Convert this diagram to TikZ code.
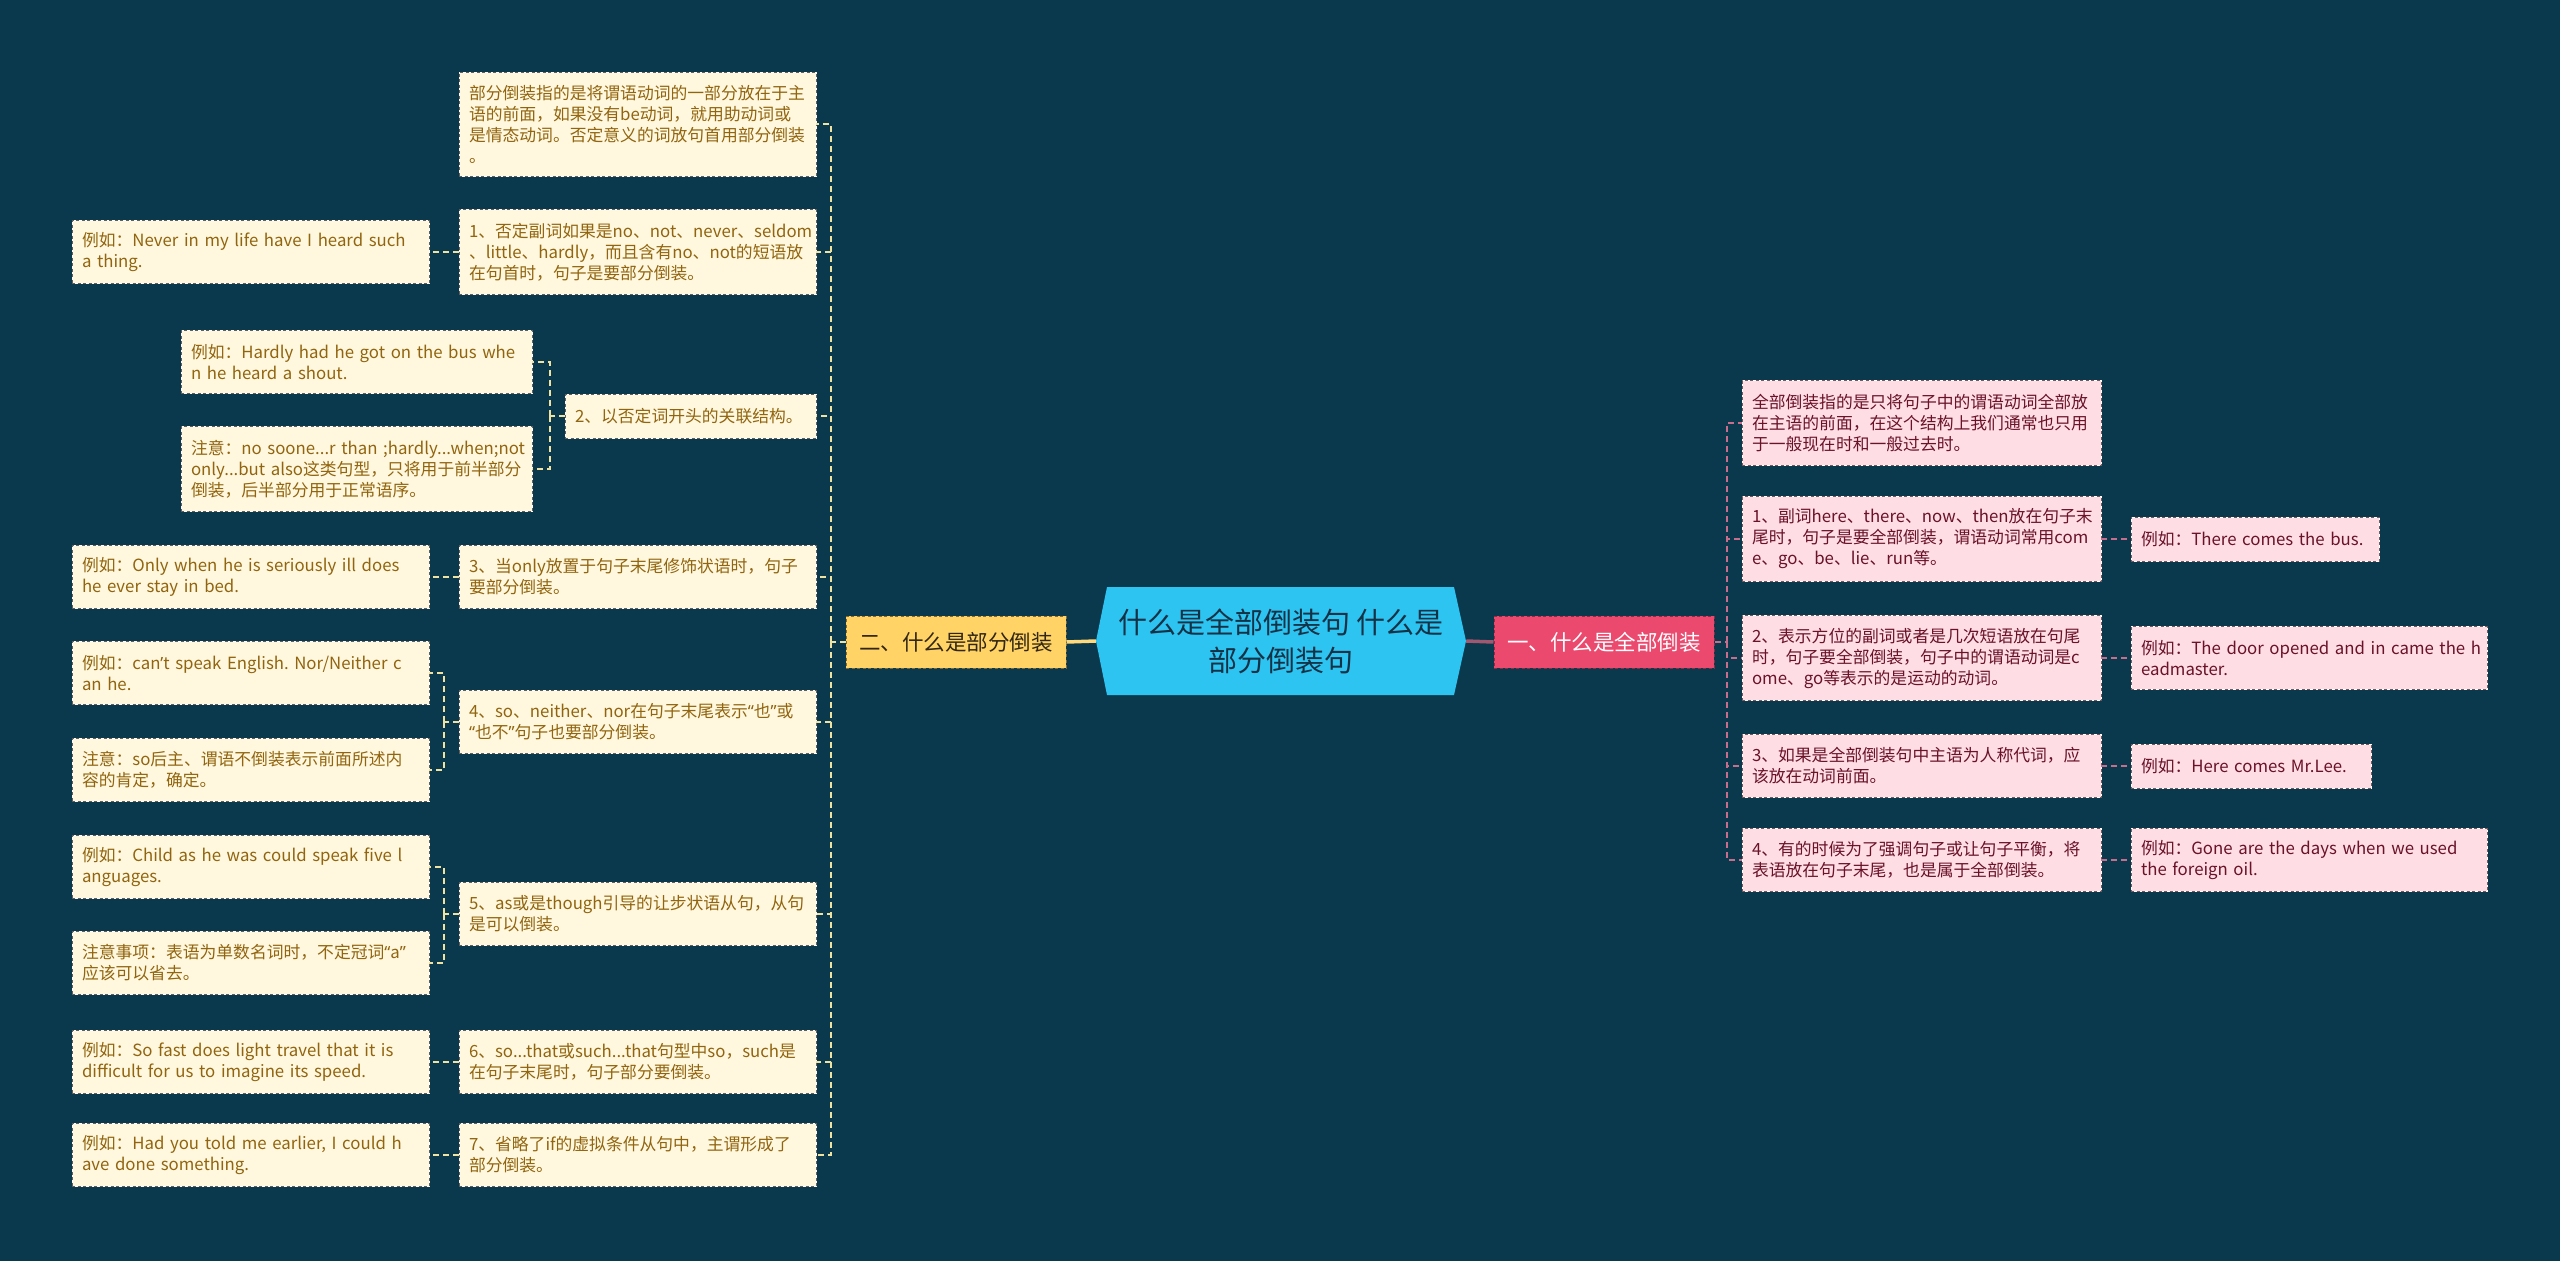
\documentclass[tikz,border=0pt]{standalone}
\usepackage{fontspec}
\setmainfont{Noto Sans CJK SC}
\newfontfamily\latq{Noto Sans}
\definecolor{bg}{RGB}{10,57,77}
\definecolor{lfill}{RGB}{255,248,222}
\definecolor{ltext}{RGB}{145,100,15}
\definecolor{lborder}{RGB}{95,95,95}
\definecolor{lline}{RGB}{240,226,160}
\definecolor{rfill}{RGB}{255,221,228}
\definecolor{rtext}{RGB}{105,18,40}
\definecolor{rborder}{RGB}{110,90,95}
\definecolor{rline}{RGB}{200,110,140}
\definecolor{cfill}{RGB}{45,196,242}
\definecolor{ctext}{RGB}{20,50,70}
\definecolor{lmfill}{RGB}{255,211,102}
\definecolor{lmtext}{RGB}{50,38,18}
\definecolor{rmfill}{RGB}{235,74,110}
\tikzset{
  box/.style={rectangle, inner xsep=10pt, inner ysep=1pt, align=left,
    font=\fontsize{16.8pt}{21pt}\selectfont, line width=0.9pt},
  lbox/.style={box, fill=lfill, draw=white!85!lfill, text=ltext,
    postaction={draw=lborder, dash pattern=on 3pt off 2.5pt, line width=0.9pt}},
  rbox/.style={box, fill=rfill, draw=white, text=rtext,
    postaction={draw=rborder, dash pattern=on 3pt off 2.5pt, line width=0.9pt}},
  wcol/.style={text width=337pt},
  h1/.style={minimum height=44pt},
  h2/.style={minimum height=63pt},
  h3/.style={minimum height=85pt},
  h4/.style={minimum height=104pt},
  lconn/.style={draw=lline, line width=1.5pt, dash pattern=on 6pt off 4pt},
  rconn/.style={draw=rline, line width=1.5pt, dash pattern=on 6pt off 4pt},
  mainbox/.style={rectangle, minimum width=220pt, minimum height=52pt,
    font=\fontsize{21.5pt}{26pt}\selectfont, line width=1pt},
}
\begin{document}
\begin{tikzpicture}[x=1pt,y=-1pt]
\fill[bg] (0,0) rectangle (2560,1261);
\useasboundingbox (0,0) rectangle (2560,1261);

% centre
\fill[cfill] (1107,587) -- (1454,587) -- (1466,641) -- (1454,695) -- (1107,695) -- (1096,641) -- cycle;
\node[rectangle, minimum width=370pt, minimum height=108pt, align=center, text=ctext,
  font=\fontsize{29pt}{38pt}\selectfont] (c) at (1281,641) {什么是全部倒装句 什么是\\部分倒装句};

\node[mainbox, fill=lmfill, text=lmtext, postaction={draw=lmtext!60!lmfill, dash pattern=on 3pt off 2.5pt}] (lm) at (956,642) {二、什么是部分倒装};
\node[mainbox, fill=rmfill, text=white, postaction={draw=rmfill!60!black, dash pattern=on 3pt off 2.5pt}] (rm) at (1604,642) {一、什么是全部倒装};

\draw[draw=lmfill!85!white, line width=3.5pt] (lm.east) -- (c.west);
\draw[draw=rline!80!black, line width=3.5pt] (c.east) -- (rm.west);

% left level 2
\node[lbox, wcol, h4] (a0) at (637.5,124) {部分倒装指的是将谓语动词的一部分放在于主\\语的前面，如果没有be动词，就用助动词或\\是情态动词。否定意义的词放句首用部分倒装\\。};
\node[lbox, wcol, h3] (b1) at (637.5,252) {1、否定副词如果是no、not、never、seldom\\、little、hardly，而且含有no、not的短语放\\在句首时，句子是要部分倒装。};
\node[lbox, text width=231pt, h1] (b2) at (690.5,416) {2、以否定词开头的关联结构。};
\node[lbox, wcol, h2] (b3) at (637.5,577) {3、当only放置于句子末尾修饰状语时，句子\\要部分倒装。};
\node[lbox, wcol, h2] (b4) at (637.5,722) {4、so、neither、nor在句子末尾表示{\latq “}也{\latq ”}或\\{\latq “}也不{\latq ”}句子也要部分倒装。};
\node[lbox, wcol, h2] (b5) at (637.5,914) {5、as或是though引导的让步状语从句，从句\\是可以倒装。};
\node[lbox, wcol, h2] (b6) at (637.5,1062) {6、so...that或such...that句型中so，such是\\在句子末尾时，句子部分要倒装。};
\node[lbox, wcol, h2] (b7) at (637.5,1155) {7、省略了if的虚拟条件从句中，主谓形成了\\部分倒装。};

% left level 3
\node[lbox, wcol, h2] (e1) at (250.5,252) {例如：Never~in~my~life~have~I~heard~such\\a~thing.};
\node[lbox, text width=331pt, h2] (e2a) at (356.5,362) {例如：Hardly~had~he~got~on~the~bus~whe\\n~he~heard~a~shout.};
\node[lbox, text width=331pt, h3] (e2b) at (356.5,469) {注意：no~soone...r~than~;hardly...when;not\\only...but~also这类句型，只将用于前半部分\\倒装，后半部分用于正常语序。};
\node[lbox, wcol, h2] (e3) at (250.5,577) {例如：Only~when~he~is~seriously~ill~does\\he~ever~stay~in~bed.};
\node[lbox, wcol, h2] (e4a) at (250.5,673) {例如：can{\latq ’}t~speak~English.~Nor/Neither~c\\an~he.};
\node[lbox, wcol, h2] (e4b) at (250.5,770) {注意：so后主、谓语不倒装表示前面所述内\\容的肯定，确定。};
\node[lbox, wcol, h2] (e5a) at (250.5,867) {例如：Child~as~he~was~could~speak~five~l\\anguages.};
\node[lbox, wcol, h2] (e5b) at (250.5,963) {注意事项：表语为单数名词时，不定冠词{\latq “}a{\latq ”}\\应该可以省去。};
\node[lbox, wcol, h2] (e6) at (250.5,1062) {例如：So~fast~does~light~travel~that~it~is\\difficult~for~us~to~imagine~its~speed.};
\node[lbox, wcol, h2] (e7) at (250.5,1155) {例如：Had~you~told~me~earlier,~I~could~h\\ave~done~something.};

% right level 2
\node[rbox, text width=339pt, h3] (r0) at (1921.5,423) {全部倒装指的是只将句子中的谓语动词全部放\\在主语的前面，在这个结构上我们通常也只用\\于一般现在时和一般过去时。};
\node[rbox, text width=339pt, h3] (r1) at (1921.5,539) {1、副词here、there、now、then放在句子末\\尾时，句子是要全部倒装，谓语动词常用com\\e、go、be、lie、run等。};
\node[rbox, text width=339pt, h3] (r2) at (1921.5,658) {2、表示方位的副词或者是几次短语放在句尾\\时，句子要全部倒装，句子中的谓语动词是c\\ome、go等表示的是运动的动词。};
\node[rbox, text width=339pt, h2] (r3) at (1921.5,766) {3、如果是全部倒装句中主语为人称代词，应\\该放在动词前面。};
\node[rbox, text width=339pt, h2] (r4) at (1921.5,860) {4、有的时候为了强调句子或让句子平衡，将\\表语放在句子末尾，也是属于全部倒装。};

% right level 3
\node[rbox, text width=228pt, h1] (s1) at (2255,539) {例如：There~comes~the~bus.};
\node[rbox, text width=336pt, h2] (s2) at (2309,658) {例如：The~door~opened~and~in~came~the~h\\eadmaster.};
\node[rbox, text width=220pt, h1] (s3) at (2251,766) {例如：Here~comes~Mr.Lee.};
\node[rbox, text width=336pt, h2] (s4) at (2309,860) {例如：Gone~are~the~days~when~we~used\\the~foreign~oil.};

% left connectors
\coordinate (lt) at (831,642);
\draw[lconn] (lm.west) -- (lt);
\foreach \n in {a0,b1,b2,b3,b4,b5,b6,b7} \draw[lconn] (lt) |- (\n.east);
\draw[lconn] (b1.west) -- (e1.east);
\coordinate (b2t) at (550,416);
\draw[lconn] (b2.west) -- (b2t);
\draw[lconn] (b2t) |- (e2a.east);
\draw[lconn] (b2t) |- (e2b.east);
\draw[lconn] (b3.west) -- (e3.east);
\coordinate (b4t) at (444,722);
\draw[lconn] (b4.west) -- (b4t);
\draw[lconn] (b4t) |- (e4a.east);
\draw[lconn] (b4t) |- (e4b.east);
\coordinate (b5t) at (444,914);
\draw[lconn] (b5.west) -- (b5t);
\draw[lconn] (b5t) |- (e5a.east);
\draw[lconn] (b5t) |- (e5b.east);
\draw[lconn] (b6.west) -- (e6.east);
\draw[lconn] (b7.west) -- (e7.east);

% right connectors
\coordinate (rt) at (1727,642);
\draw[rconn] (rm.east) -- (rt);
\foreach \n in {r0,r1,r2,r3,r4} \draw[rconn] (rt) |- (\n.west);
\draw[rconn] (r1.east) -- (s1.west);
\draw[rconn] (r2.east) -- (s2.west);
\draw[rconn] (r3.east) -- (s3.west);
\draw[rconn] (r4.east) -- (s4.west);
\end{tikzpicture}
\end{document}
